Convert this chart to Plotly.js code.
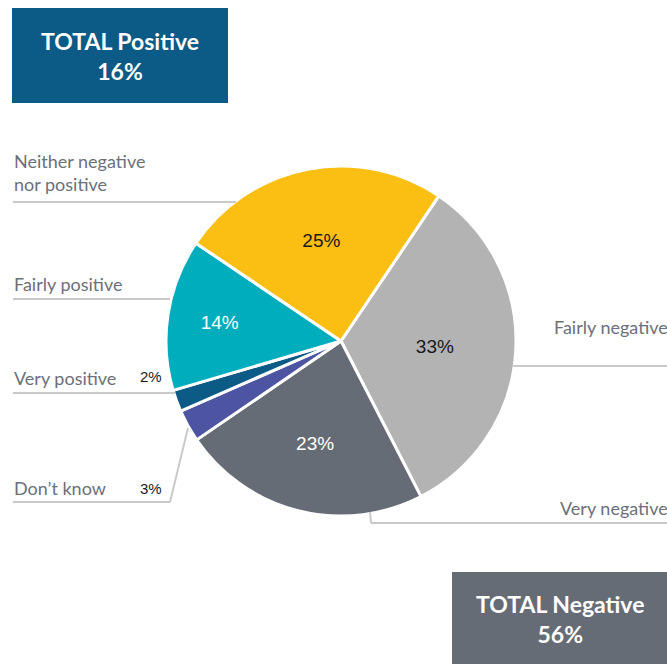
<!DOCTYPE html>
<html>
<head>
<meta charset="utf-8">
<script src="https://cdn.plot.ly/plotly-3.0.1.min.js"></script>
<style>html,body{margin:0;padding:0;background:#fff;}#chart{width:667px;height:664px;}</style>
</head>
<body>
<div id="chart"></div>
<script>
// Data
const categories = ["Fairly negative", "Very negative", "Don\u2019t know", "Very positive", "Fairly positive", "Neither negative<br>nor positive"];
const values = [33, 23, 3, 2, 14, 25];
const colors = ["#b3b3b3", "#666c75", "#4d55a3", "#0c5a86", "#00adbd", "#fbbf14"];
const insideTextColors = ["#1a1a1a", "#ffffff", "#ffffff", "#ffffff", "#ffffff", "#1a1a1a"];
const totalLabels = ["TOTAL Positive", "TOTAL Negative"];
const totalValues = [16, 56];

const W = 667, H = 664;
const px = x => x / W;
const py = y => 1 - y / H;

// Inside text only for the larger slices
const insideText = values.map(v => v >= 5 ? v + "%" : "");

const trace = {
  type: "pie",
  values: values,
  labels: categories,
  sort: false,
  direction: "clockwise",
  rotation: 34,
  marker: { colors: colors, line: { color: "#ffffff", width: 3 } },
  text: insideText,
  textinfo: "text",
  textposition: "inside",
  insidetextorientation: "horizontal",
  insidetextfont: { family: "Liberation Sans, Arial, sans-serif", size: 19, color: insideTextColors },
  hoverinfo: "label+percent",
  showlegend: false,
  domain: { x: [px(166), px(516)], y: [py(516), py(166)] }
};

const labelFont = { family: "Lato, 'Open Sans', sans-serif", size: 18, color: "#6b7079" };
const lineStyle = { color: "#c9c9c9", width: 2 };

function hline(x0, x1, y) {
  return { type: "line", xref: "paper", yref: "paper", x0: px(x0), x1: px(x1), y0: py(y), y1: py(y), line: lineStyle };
}
function seg(x0, y0, x1, y1) {
  return { type: "line", xref: "paper", yref: "paper", x0: px(x0), x1: px(x1), y0: py(y0), y1: py(y1), line: lineStyle };
}

const shapes = [
  // total boxes
  { type: "rect", xref: "paper", yref: "paper", x0: px(12), x1: px(228), y0: py(103), y1: py(8), fillcolor: "#0c5a86", line: { width: 0 } },
  { type: "rect", xref: "paper", yref: "paper", x0: px(452), x1: px(667), y0: py(664), y1: py(572), fillcolor: "#666c75", line: { width: 0 } },
  // leader lines
  hline(13, 236, 202),
  hline(13, 170, 299),
  hline(13, 175, 393),
  hline(13, 170, 502),
  seg(170, 502, 188, 428),
  hline(512, 667, 366),
  hline(371, 667, 523),
  seg(371, 523, 370, 512)
];

const annotations = [
  { text: categories[5], x: px(12), y: py(172), xanchor: "left", yanchor: "middle", align: "left", font: labelFont },
  { text: categories[4], x: px(12), y: py(284), xanchor: "left", yanchor: "middle", align: "left", font: labelFont },
  { text: categories[3], x: px(12), y: py(378), xanchor: "left", yanchor: "middle", align: "left", font: labelFont },
  { text: categories[2], x: px(12), y: py(488), xanchor: "left", yanchor: "middle", align: "left", font: labelFont },
  { text: categories[0], x: px(670), y: py(327), xanchor: "right", yanchor: "middle", align: "right", font: labelFont },
  { text: categories[1], x: px(670), y: py(508), xanchor: "right", yanchor: "middle", align: "right", font: labelFont },
  { text: values[3] + "%", x: px(138), y: py(377), xanchor: "left", yanchor: "middle", font: { family: "Liberation Sans, Arial, sans-serif", size: 15, color: "#1a1a1a" } },
  { text: values[2] + "%", x: px(138), y: py(488), xanchor: "left", yanchor: "middle", font: { family: "Liberation Sans, Arial, sans-serif", size: 15, color: "#1a1a1a" } },
  { text: "<b>" + totalLabels[0] + "</b><br><b>" + totalValues[0] + "%</b>", x: px(120), y: py(56), xanchor: "center", yanchor: "middle", align: "center", font: { family: "Lato, sans-serif", size: 23, color: "#ffffff" } },
  { text: "<b>" + totalLabels[1] + "</b><br><b>" + totalValues[1] + "%</b>", x: px(560), y: py(619), xanchor: "center", yanchor: "middle", align: "center", font: { family: "Lato, sans-serif", size: 23, color: "#ffffff" } }
].map(a => Object.assign({ xref: "paper", yref: "paper", showarrow: false }, a));

const layout = {
  width: W, height: H,
  margin: { l: 0, r: 0, t: 0, b: 0 },
  paper_bgcolor: "#ffffff",
  plot_bgcolor: "#ffffff",
  shapes: shapes,
  annotations: annotations,
  showlegend: false
};

Plotly.newPlot("chart", [trace], layout, { displayModeBar: false, staticPlot: true });
</script>
</body>
</html>
